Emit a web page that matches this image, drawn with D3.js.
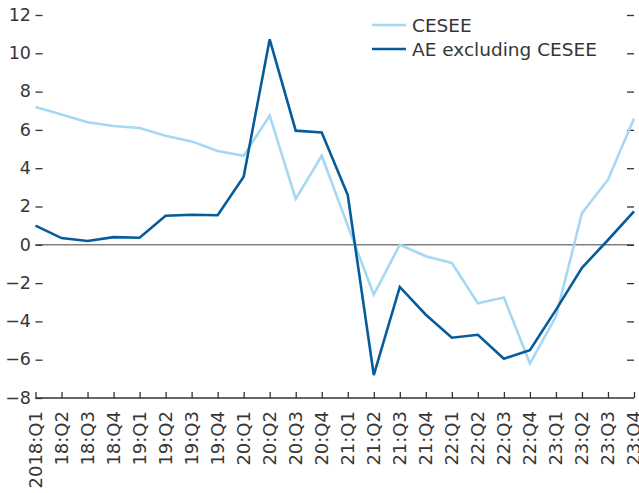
<!DOCTYPE html>
<html>
<head>
<meta charset="utf-8">
<script src="https://cdn.jsdelivr.net/npm/d3@7"></script>
<style>
  body { margin: 0; background: #fff; }
  svg { display: block; }
  text { font-family: "DejaVu Sans", sans-serif; fill: #363636; }
</style>
</head>
<body>
<svg id="chart" width="639" height="493"></svg>
<script>
const categories = ["2018:Q1","18:Q2","18:Q3","18:Q4","19:Q1","19:Q2","19:Q3","19:Q4",
  "20:Q1","20:Q2","20:Q3","20:Q4","21:Q1","21:Q2","21:Q3","21:Q4",
  "22:Q1","22:Q2","22:Q3","22:Q4","23:Q1","23:Q2","23:Q3","23:Q4"];
const cesee = [7.2, 6.8, 6.4, 6.2, 6.1, 5.7, 5.4, 4.9, 4.65, 6.75, 2.4, 4.65,
  1.0, -2.6, 0.0, -0.6, -0.95, -3.05, -2.75, -6.2, -3.75, 1.65, 3.4, 6.6];
const aeExCesee = [1.0, 0.35, 0.2, 0.4, 0.37, 1.52, 1.57, 1.54, 3.56, 10.73, 5.96, 5.87,
  2.6, -6.8, -2.2, -3.65, -4.85, -4.7, -5.95, -5.5, -3.4, -1.2, 0.25, 1.75];
const yTicks = [-8, -6, -4, -2, 0, 2, 4, 6, 8, 10, 12];
const seriesNames = ["CESEE", "AE excluding CESEE"];
const seriesColors = ["#a6d8f2", "#065c9b"];

const svg = d3.select("#chart");
const mLeft = 35.5, mRight = 634, mTop = 15, mBottom = 398;

const x = d3.scalePoint().domain(categories).range([mLeft, mRight]);
const y = d3.scaleLinear().domain([-8, 12]).range([mBottom, mTop]);

// zero line
svg.append("line")
  .attr("x1", mLeft).attr("x2", mRight)
  .attr("y1", y(0)).attr("y2", y(0))
  .attr("stroke", "#808080").attr("stroke-width", 1.6);

// left y axis (inward ticks, no domain line)
const yAxisL = svg.append("g").attr("transform", `translate(${mLeft},0)`)
  .call(d3.axisRight(y).tickValues(yTicks).tickSize(7).tickFormat(""));
yAxisL.select(".domain").remove();
yAxisL.selectAll(".tick line").attr("stroke", "#333").attr("stroke-width", 1.3);

svg.append("g").selectAll("text").data(yTicks).join("text")
  .attr("x", 31).attr("y", d => y(d))
  .attr("dy", "0.33em")
  .attr("text-anchor", "end")
  .style("font-size", "17.5px")
  .text(d => d < 0 ? "\u2212" + Math.abs(d) : d);

// right y axis (inward ticks)
const yAxisR = svg.append("g").attr("transform", `translate(${mRight},0)`)
  .call(d3.axisLeft(y).tickValues(yTicks.filter(d => d > -8)).tickSize(7).tickFormat(""));
yAxisR.select(".domain").remove();
yAxisR.selectAll(".tick line").attr("stroke", "#333").attr("stroke-width", 1.3);

// x axis
const xAxis = svg.append("g").attr("transform", `translate(0,${mBottom})`)
  .call(d3.axisTop(x).tickSize(6).tickSizeOuter(0).tickFormat(""));
xAxis.select(".domain").attr("stroke", "#333").attr("stroke-width", 1.3)
  .attr("d", `M${mLeft},0H${mRight}`);
xAxis.selectAll(".tick line").attr("stroke", "#333").attr("stroke-width", 1.3);

svg.append("g").selectAll("text").data(categories).join("text")
  .attr("transform", d => `translate(${x(d)},${mBottom + 13}) rotate(-90)`)
  .attr("text-anchor", "end")
  .attr("dy", "0.36em")
  .style("font-size", "18px")
  .text(d => d);

// lines
const line = d3.line().x((d, i) => x(categories[i])).y(d => y(d));
[cesee, aeExCesee].forEach((s, k) => {
  svg.append("path").datum(s)
    .attr("fill", "none")
    .attr("stroke", seriesColors[k])
    .attr("stroke-width", 2.6)
    .attr("stroke-linejoin", "miter")
    .attr("d", line);
});

// legend
const legend = svg.append("g");
seriesNames.forEach((n, k) => {
  const ly = 25 + k * 24;
  legend.append("line").attr("x1", 372).attr("x2", 406)
    .attr("y1", ly).attr("y2", ly)
    .attr("stroke", seriesColors[k]).attr("stroke-width", 2.6);
  legend.append("text").attr("x", 412).attr("y", ly).attr("dy", "0.36em")
    .style("font-size", "18.5px").text(n);
});
</script>
</body>
</html>
